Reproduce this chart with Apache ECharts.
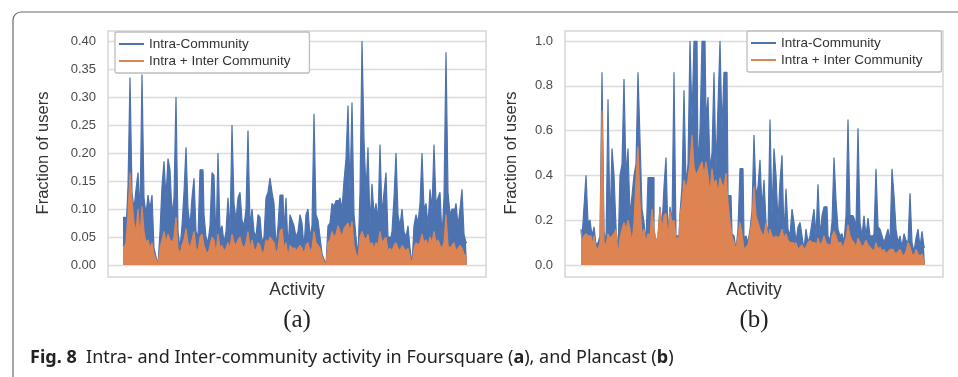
<!DOCTYPE html>
<html>
<head>
<meta charset="utf-8">
<script src="https://cdn.jsdelivr.net/npm/echarts@6/dist/echarts.min.js"></script>
<style>
  html, body { margin: 0; padding: 0; background: #fff; }
  #chart { width: 958px; height: 377px; }
</style>
</head>
<body>
<div id="chart"></div>
<script>
// Fig. 8 — fraction of users per activity, Foursquare (a) and Plancast (b)
const seriesNames = ['Intra-Community', 'Intra + Inter Community']

// (a) Foursquare
const intraA = [
  0.085, 0.085, 0.06, 0.14, 0.335, 0.13, 0.10, 0.135, 0.165, 0.09,
  0.34, 0.12, 0.09, 0.125, 0.10, 0.125, 0.03, 0.015, 0.0, 0.06,
  0.14, 0.185, 0.12, 0.19, 0.17, 0.09, 0.12, 0.30, 0.06, 0.03,
  0.07, 0.13, 0.21, 0.10, 0.07, 0.12, 0.155, 0.06, 0.05, 0.17,
  0.17, 0.09, 0.05, 0.04, 0.07, 0.165, 0.16, 0.04, 0.20, 0.06,
  0.07, 0.04, 0.06, 0.12, 0.06, 0.25, 0.11, 0.08, 0.12, 0.13,
  0.08, 0.07, 0.10, 0.24, 0.07, 0.10, 0.06, 0.05, 0.09, 0.085,
  0.04, 0.05, 0.12, 0.13, 0.155, 0.13, 0.11, 0.03, 0.07, 0.125,
  0.125, 0.06, 0.12, 0.03, 0.09, 0.08, 0.07, 0.05, 0.06, 0.09,
  0.075, 0.03, 0.09, 0.10, 0.05, 0.07, 0.27, 0.09, 0.08, 0.05,
  0.02, 0.01, 0.0, 0.07, 0.075, 0.11, 0.105, 0.115, 0.115, 0.12,
  0.10, 0.15, 0.19, 0.285, 0.13, 0.29, 0.09, 0.05, 0.015, 0.13,
  0.40, 0.225, 0.13, 0.21, 0.07, 0.145, 0.09, 0.11, 0.08, 0.215,
  0.09, 0.13, 0.165, 0.05, 0.05, 0.06, 0.12, 0.20, 0.09, 0.07,
  0.10, 0.06, 0.05, 0.07, 0.03, 0.0, 0.07, 0.09, 0.075, 0.11,
  0.20, 0.10, 0.11, 0.07, 0.135, 0.10, 0.215, 0.11, 0.12, 0.13,
  0.05, 0.12, 0.38, 0.13, 0.09, 0.10, 0.10, 0.11, 0.07, 0.10,
  0.135, 0.055, 0.04
]
const interA = [
  0.035, 0.03, 0.04, 0.09, 0.165, 0.115, 0.075, 0.06, 0.10, 0.05,
  0.105, 0.06, 0.04, 0.045, 0.03, 0.04, 0.02, 0.01, 0.0, 0.03,
  0.045, 0.06, 0.04, 0.055, 0.045, 0.04, 0.05, 0.085, 0.03, 0.02,
  0.035, 0.045, 0.065, 0.04, 0.03, 0.045, 0.06, 0.03, 0.025, 0.05,
  0.055, 0.035, 0.025, 0.02, 0.035, 0.05, 0.045, 0.02, 0.055, 0.03,
  0.035, 0.025, 0.03, 0.04, 0.03, 0.055, 0.04, 0.035, 0.045, 0.05,
  0.035, 0.03, 0.04, 0.06, 0.03, 0.045, 0.03, 0.025, 0.04, 0.035,
  0.02, 0.025, 0.045, 0.04, 0.05, 0.045, 0.04, 0.02, 0.03, 0.06,
  0.065, 0.03, 0.04, 0.015, 0.035, 0.03, 0.03, 0.025, 0.03, 0.035,
  0.03, 0.02, 0.035, 0.04, 0.025, 0.03, 0.06, 0.04, 0.035, 0.03,
  0.015, 0.005, 0.0, 0.04, 0.045, 0.06, 0.05, 0.055, 0.07, 0.06,
  0.05, 0.065, 0.07, 0.075, 0.06, 0.078, 0.035, 0.02, 0.01, 0.05,
  0.06, 0.05, 0.045, 0.055, 0.035, 0.04, 0.03, 0.04, 0.035, 0.06,
  0.04, 0.045, 0.05, 0.025, 0.03, 0.025, 0.035, 0.04, 0.03, 0.025,
  0.035, 0.03, 0.025, 0.03, 0.015, 0.0, 0.03, 0.04, 0.035, 0.04,
  0.055, 0.04, 0.045, 0.035, 0.05, 0.04, 0.06, 0.04, 0.045, 0.035,
  0.03, 0.04, 0.09, 0.035, 0.03, 0.035, 0.04, 0.025, 0.03, 0.035,
  0.03, 0.02, 0.015
]

// (b) Plancast
const intraB = [
  0.16, 0.12, 0.26, 0.40, 0.19, 0.20, 0.13, 0.17, 0.09, 0.10,
  0.13, 0.86, 0.15, 0.10, 0.74, 0.17, 0.52, 0.40, 0.17, 0.05,
  0.40, 0.45, 0.83, 0.40, 0.52, 0.22, 0.31, 0.40, 0.45, 0.86,
  0.56, 0.25, 0.19, 0.10, 0.39, 0.39, 0.39, 0.16, 0.10, 0.13,
  0.26, 0.17, 0.35, 0.48, 0.13, 0.26, 0.19, 0.86, 0.13, 0.13,
  0.23, 0.35, 0.78, 0.36, 0.45, 1.0, 0.65, 1.0, 1.0, 0.43,
  0.60, 1.0, 1.0, 0.65, 0.75, 0.43, 0.50, 0.86, 0.43, 0.71,
  1.0, 0.60, 0.86, 0.86, 0.31, 0.31, 0.14, 0.13, 0.07, 0.16,
  0.43, 0.43, 0.12, 0.13, 0.10, 0.16, 0.24, 0.58, 0.31, 0.35,
  0.47, 0.25, 0.38, 0.19, 0.13, 0.65, 0.22, 0.52, 0.40, 0.19,
  0.37, 0.49, 0.13, 0.34, 0.16, 0.13, 0.25, 0.19, 0.10, 0.17,
  0.19, 0.13, 0.07, 0.16, 0.10, 0.13, 0.19, 0.25, 0.13, 0.36,
  0.13, 0.22, 0.26, 0.26, 0.13, 0.11, 0.19, 0.48, 0.29, 0.16,
  0.13, 0.14, 0.10, 0.22, 0.65, 0.22, 0.22, 0.21, 0.17, 0.61,
  0.19, 0.13, 0.22, 0.13, 0.21, 0.13, 0.13, 0.14, 0.43, 0.17,
  0.16, 0.13, 0.10, 0.13, 0.16, 0.10, 0.43, 0.31, 0.16, 0.10,
  0.13, 0.08, 0.14, 0.11, 0.10, 0.32, 0.10, 0.06, 0.12, 0.16,
  0.08, 0.15, 0.08
]
const interB = [
  0.15, 0.10, 0.13, 0.14, 0.13, 0.13, 0.09, 0.13, 0.08, 0.07,
  0.10, 0.69, 0.10, 0.09, 0.14, 0.12, 0.13, 0.14, 0.16, 0.04,
  0.12, 0.16, 0.19, 0.16, 0.20, 0.16, 0.10, 0.19, 0.38, 0.53,
  0.28, 0.13, 0.16, 0.10, 0.14, 0.13, 0.25, 0.16, 0.10, 0.13,
  0.25, 0.16, 0.22, 0.23, 0.12, 0.24, 0.19, 0.20, 0.12, 0.12,
  0.22, 0.28, 0.38, 0.34, 0.38, 0.46, 0.58, 0.44, 0.40, 0.42,
  0.44, 0.46, 0.40, 0.46, 0.40, 0.32, 0.43, 0.36, 0.38, 0.32,
  0.39, 0.36, 0.35, 0.41, 0.28, 0.19, 0.13, 0.10, 0.07, 0.13,
  0.19, 0.14, 0.07, 0.08, 0.09, 0.14, 0.20, 0.35, 0.22, 0.19,
  0.16, 0.14, 0.13, 0.19, 0.12, 0.16, 0.13, 0.12, 0.13, 0.12,
  0.13, 0.16, 0.12, 0.14, 0.11, 0.10, 0.10, 0.09, 0.10, 0.07,
  0.08, 0.09, 0.07, 0.08, 0.10, 0.11, 0.10, 0.10, 0.08, 0.12,
  0.09, 0.10, 0.13, 0.10, 0.09, 0.09, 0.13, 0.15, 0.13, 0.10,
  0.10, 0.08, 0.09, 0.12, 0.18, 0.13, 0.11, 0.10, 0.08, 0.12,
  0.10, 0.08, 0.09, 0.11, 0.09, 0.08, 0.07, 0.06, 0.10, 0.07,
  0.08, 0.06, 0.07, 0.05, 0.06, 0.07, 0.07, 0.06, 0.05, 0.06,
  0.07, 0.05, 0.04, 0.06, 0.10, 0.08, 0.05, 0.04, 0.07, 0.05,
  0.04, 0.05, 0.02
]

const BLUE = '#4c72b0'
const ORANGE = '#dd8452'
const GRID_LINE = '#dcdcdc'
const SANS = '"Liberation Sans", Arial, sans-serif'

const chart = echarts.init(document.getElementById('chart'), null, { renderer: 'canvas' })

function panelSeries(values, name, color, idx, z) {
  return {
    name,
    type: 'line',
    step: 'middle',
    xAxisIndex: idx,
    yAxisIndex: idx,
    data: values.map((v, i) => [i, v]),
    symbol: 'none',
    showSymbol: false,
    z,
    lineStyle: { color, width: 1.2 },
    itemStyle: { color },
    areaStyle: { color, opacity: 1 },
  }
}

function xAxisFor(idx, min, max) {
  return {
    type: 'value',
    gridIndex: idx,
    min,
    max,
    axisLine: { show: false },
    axisTick: { show: false },
    axisLabel: { show: false },
    splitLine: { show: false },
    name: 'Activity',
    nameLocation: 'middle',
    nameGap: 16,
    nameTextStyle: { fontFamily: SANS, fontSize: 17.5, color: '#333' },
  }
}

function yAxisFor(idx, max, interval, digits, gap) {
  return {
    type: 'value',
    gridIndex: idx,
    min: 0,
    max,
    interval,
    axisLine: { show: false },
    axisTick: { show: false },
    axisLabel: {
      margin: 12,
      fontFamily: SANS,
      fontSize: 13,
      color: '#4a4a4a',
      formatter: (v) => v.toFixed(digits),
    },
    splitLine: { lineStyle: { color: GRID_LINE, width: 1.3 } },
    name: 'Fraction of users',
    nameLocation: 'middle',
    nameGap: gap,
    nameTextStyle: { fontFamily: SANS, fontSize: 16.5, color: '#333' },
  }
}

function legendAt(left, top) {
  return {
    left,
    top,
    orient: 'vertical',
    data: seriesNames,
    icon: 'rect',
    itemWidth: 25,
    itemHeight: 2,
    itemGap: 1,
    padding: [4, 19, 4, 4],
    backgroundColor: '#fff',
    borderColor: '#bdbdbd',
    borderWidth: 1.3,
    borderRadius: 2,
    selectedMode: false,
    textStyle: { fontFamily: SANS, fontSize: 13.5, color: '#333', lineHeight: 16 },
  }
}

chart.setOption({
  animation: false,
  backgroundColor: '#fff',
  grid: [
    { left: 108, top: 41, width: 378, height: 224 },
    { left: 565, top: 41, width: 378, height: 224 },
  ],
  xAxis: [xAxisFor(0, -7.5, 181.5), xAxisFor(1, -8, 181)],
  yAxis: [yAxisFor(0, 0.4, 0.05, 2, 56), yAxisFor(1, 1.0, 0.2, 1, 45)],
  legend: [legendAt(115, 32), legendAt(747, 31)],
  series: [
    panelSeries(intraA, seriesNames[0], BLUE, 0, 2),
    panelSeries(interA, seriesNames[1], ORANGE, 0, 3),
    panelSeries(intraB, seriesNames[0], BLUE, 1, 2),
    panelSeries(interB, seriesNames[1], ORANGE, 1, 3),
  ],
  graphic: [
    // figure frame
    {
      type: 'rect', z: -10,
      shape: { x: 13, y: 12, width: 1000, height: 420, r: 8 },
      style: { fill: 'none', stroke: '#6a6a6a', lineWidth: 1.2 },
    },
    // axes boxes
    {
      type: 'rect', z: 1,
      shape: { x: 108, y: 31, width: 378, height: 246 },
      style: { fill: 'none', stroke: '#d6d6d6', lineWidth: 1.5 },
    },
    {
      type: 'rect', z: 1,
      shape: { x: 565, y: 31, width: 378, height: 246 },
      style: { fill: 'none', stroke: '#d6d6d6', lineWidth: 1.5 },
    },
    {
      type: 'text', x: 297, y: 320,
      style: { text: '(a)', align: 'center', verticalAlign: 'middle', font: '25px "Liberation Serif", serif', fill: '#222' },
    },
    {
      type: 'text', x: 754, y: 320,
      style: { text: '(b)', align: 'center', verticalAlign: 'middle', font: '25px "Liberation Serif", serif', fill: '#222' },
    },
    {
      type: 'text', x: 30, y: 358,
      style: {
        text: '{b|Fig. 8}  Intra- and Inter-community activity in Foursquare ({b|a}), and Plancast ({b|b})',
        verticalAlign: 'middle',
        fontFamily: '"Noto Sans", sans-serif',
        fontSize: 18,
        fill: '#222',
        rich: { b: { fontWeight: 'bold', fontFamily: '"Noto Sans", sans-serif', fontSize: 18, fill: '#222' } },
      },
    },
  ],
})
</script>
</body>
</html>
